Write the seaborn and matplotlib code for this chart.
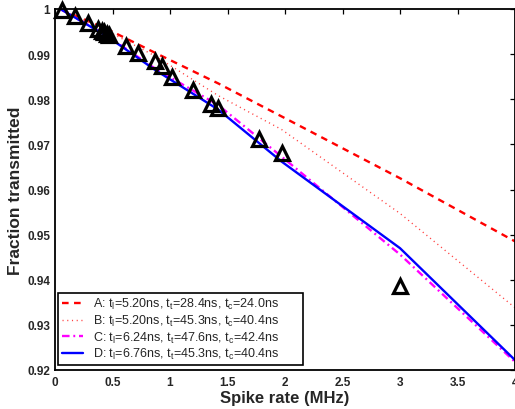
import matplotlib
matplotlib.use("Agg")
import matplotlib.pyplot as plt
import seaborn as sns
import pandas as pd
from matplotlib.ticker import FormatStrFormatter

# Measured spike-rate points
rate_meas = [0.06, 0.17, 0.29, 0.37, 0.41, 0.43, 0.45, 0.47, 0.62, 0.72,
             0.87, 0.93, 1.02, 1.20, 1.36, 1.42, 1.77, 1.97, 3.00]
frac_meas = [0.9998, 0.9985, 0.9969, 0.9956, 0.9951, 0.9948, 0.9945, 0.9942,
             0.9918, 0.9903, 0.9885, 0.9874, 0.9850, 0.9820, 0.9790, 0.9781,
             0.9713, 0.9680, 0.9386]

# Model curves evaluated on a common rate grid
rate_model = [0.06, 0.45, 0.87, 1.42, 1.97, 3.00, 4.00]
frac_A = [0.9998, 0.9956, 0.9903, 0.9835, 0.9762, 0.9625, 0.9485]
frac_B = [0.9998, 0.9952, 0.9896, 0.9808, 0.9733, 0.9547, 0.9338]
frac_C = [0.9998, 0.9941, 0.9868, 0.9787, 0.9673, 0.9456, 0.9218]
frac_D = [0.9998, 0.9940, 0.9865, 0.9777, 0.9662, 0.9470, 0.9222]

labels = [
    r"A: t$_{\rm l}$=5.20ns, t$_{\rm t}$=28.4ns, t$_{\rm c}$=24.0ns",
    r"B: t$_{\rm l}$=5.20ns, t$_{\rm t}$=45.3ns, t$_{\rm c}$=40.4ns",
    r"C: t$_{\rm l}$=6.24ns, t$_{\rm t}$=47.6ns, t$_{\rm c}$=42.4ns",
    r"D: t$_{\rm l}$=6.76ns, t$_{\rm t}$=45.3ns, t$_{\rm c}$=40.4ns",
]
xticks = [0, 0.5, 1, 1.5, 2, 2.5, 3, 3.5, 4]
yticks = [0.92, 0.93, 0.94, 0.95, 0.96, 0.97, 0.98, 0.99, 1.0]

sns.set_style("white")
plt.rcParams["font.family"] = ["Liberation Sans", "DejaVu Sans"]
plt.rcParams["mathtext.fontset"] = "custom"
plt.rcParams["mathtext.rm"] = "Liberation Sans"
plt.rcParams["mathtext.it"] = "Liberation Sans:italic"
plt.rcParams["mathtext.bf"] = "Liberation Sans:bold"

fig = plt.figure(figsize=(5.15, 4.10), dpi=100)
ax = fig.add_axes([55 / 515, 39 / 410, 460 / 515, 361 / 410])

model = pd.DataFrame({"rate": rate_model, "A": frac_A, "B": frac_B,
                      "C": frac_C, "D": frac_D})
meas = pd.DataFrame({"rate": rate_meas, "frac": frac_meas})

styles = [
    dict(color="#ff0000", lw=1.7, dashes=(2.8, 2.3)),
    dict(color="#ff4040", lw=1.0, dashes=(0.8, 2.6)),
    dict(color="#ff00ff", lw=1.7, dashes=(3.2, 1.6, 0.8, 1.6)),
    dict(color="#0000ff", lw=1.7, linestyle="-"),
]
for col, lab, st in zip(["A", "B", "C", "D"], labels, styles):
    st = dict(st)
    dashes = st.pop("dashes", None)
    line_ax = sns.lineplot(data=model, x="rate", y=col, ax=ax, label=lab,
                           sort=False, **st)
    if dashes is not None:
        line_ax.lines[-1].set_dashes(dashes)

handles, hlabels = ax.get_legend_handles_labels()

sns.lineplot(data=meas, x="rate", y="frac", ax=ax, sort=False,
             linestyle="", marker="^", markersize=10.5,
             markerfacecolor="none", markeredgecolor="black",
             markeredgewidth=2.3, clip_on=False, zorder=5)

ax.set_xlim(0, 4)
ax.set_ylim(0.92, 1.0)
ax.set_xticks(xticks)
ax.set_yticks(yticks)
ax.xaxis.set_major_formatter(FormatStrFormatter("%g"))
ax.yaxis.set_major_formatter(FormatStrFormatter("%g"))
ax.tick_params(direction="in", top=True, right=True, length=3.5, width=0.9,
               labelsize=8.5, pad=3.5, color="black")
ax.tick_params(axis="x", pad=4)
for t in ax.get_xticklabels() + ax.get_yticklabels():
    t.set_fontweight("bold")
for sp in ax.spines.values():
    sp.set_visible(True)
    sp.set_color("black")
    sp.set_linewidth(1.3)

ax.set_xlabel("Spike rate (MHz)", fontsize=12, fontweight="bold", labelpad=2)
ax.set_ylabel("Fraction transmitted", fontsize=12.5, fontweight="bold",
              labelpad=3)

leg = ax.legend(handles, hlabels, loc="lower left",
                bbox_to_anchor=(0.0065, 0.014, 245 / 460, 0.2),
                mode="expand", borderaxespad=0,
                fontsize=9, frameon=True, fancybox=False, framealpha=1,
                edgecolor="black", handlelength=1.7, handletextpad=0.8,
                labelspacing=0.12, borderpad=0.3)
leg.get_frame().set_linewidth(1.2)

fig.savefig("out.png", dpi=100)
